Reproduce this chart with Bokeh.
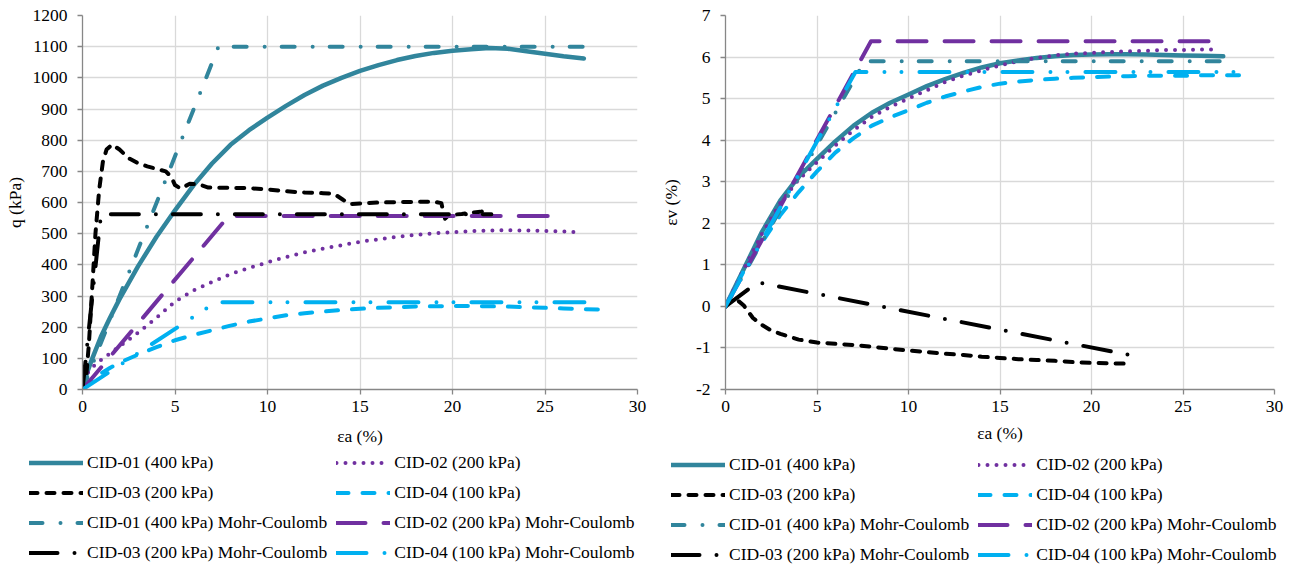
from bokeh.plotting import figure
from bokeh.models import Legend, LegendItem, Range1d, FixedTicker, PrintfTickFormatter
from bokeh.layouts import row, column
from bokeh.embed import file_html
from bokeh.resources import INLINE

# ---------------- tick values & labels ----------------
x_ticks = [0, 5, 10, 15, 20, 25, 30]
q_ticks = [0, 100, 200, 300, 400, 500, 600, 700, 800, 900, 1000, 1100, 1200]
ev_ticks = [-2, -1, 0, 1, 2, 3, 4, 5, 6, 7]

labels = ["CID-01 (400 kPa)", "CID-02 (200 kPa)", "CID-03 (200 kPa)", "CID-04 (100 kPa)",
          "CID-01 (400 kPa) Mohr-Coulomb", "CID-02 (200 kPa) Mohr-Coulomb",
          "CID-03 (200 kPa) Mohr-Coulomb", "CID-04 (100 kPa) Mohr-Coulomb"]

# ---------------- left chart: q (kPa) vs axial strain ----------------
q01_ea = [0, 0.25, 0.5, 1, 1.5, 2, 3, 4, 5, 6, 7, 8, 9, 10, 11, 12, 13, 14, 15, 16, 17, 18, 19, 20, 21, 22, 23, 24, 25, 26, 27.1]
q01 = [0, 55, 95, 170, 232, 290, 395, 490, 575, 655, 725, 785, 832, 872, 910, 945, 975, 1000, 1022, 1041, 1057, 1070, 1080, 1087, 1092, 1096, 1093, 1085, 1077, 1069, 1062]

q02_ea = [0, 0.3, 0.6, 1, 2, 3, 4, 5, 6, 7, 8, 9, 10, 11, 12, 13, 14, 15, 16, 17, 18, 19, 20, 21, 22, 23, 24, 25, 26, 26.8]
q02 = [0, 55, 75, 95, 138, 182, 230, 282, 318, 345, 370, 390, 408, 425, 440, 452, 463, 474, 482, 490, 496, 501, 505, 508, 510, 511, 510, 509, 507, 505]

q03_ea = [0, 0.2, 0.35, 0.5, 0.7, 0.9, 1.1, 1.3, 1.6, 2.0, 2.5, 3.0, 3.5, 4.0, 4.5, 4.8, 5.0, 5.3, 5.8, 6.3, 6.8, 8, 9, 10, 11, 12, 13, 13.6, 14.1, 14.5, 15, 16, 17, 18, 19, 19.4, 19.5, 19.6, 19.8, 20.5, 21, 21.5, 22]
q03 = [0, 40, 150, 300, 500, 640, 730, 770, 786, 770, 742, 726, 716, 708, 700, 682, 656, 645, 660, 658, 648, 647, 646, 642, 636, 632, 630, 628, 608, 595, 597, 600, 601, 602, 603, 598, 570, 548, 560, 563, 567, 570, 575]

q04_ea = [0, 0.5, 1, 1.5, 2, 3, 4, 5, 6, 7, 8, 9, 10, 11, 12, 13, 14, 15, 16, 17, 18, 19, 20, 21, 22, 23, 24, 25, 26, 27, 28.5]
q04 = [0, 30, 52, 70, 86, 112, 136, 158, 175, 190, 205, 218, 228, 238, 245, 250, 255, 259, 262, 264, 266, 267, 268, 268, 267, 266, 264, 262, 260, 258, 256]

q01mc_ea = [0, 7.35, 27.1]
q01mc = [0, 1100, 1100]
q02mc_ea = [0, 7.9, 26.0]
q02mc = [0, 557, 557]
q03mc_ea = [0, 1.0, 22.1]
q03mc = [0, 562, 562]
q04mc_ea = [0, 7.2, 27.4]
q04mc = [0, 280, 280]

# ---------------- right chart: volumetric strain vs axial strain ----------------
e01_ea = [0, 1, 2, 3, 4, 5, 6, 7, 8, 9, 10, 11, 12, 13, 14, 15, 16, 17, 18, 19, 20, 21, 22, 23, 24, 25, 26, 27.2]
e01 = [0, 0.9, 1.8, 2.55, 3.12, 3.55, 3.97, 4.35, 4.66, 4.9, 5.1, 5.3, 5.47, 5.62, 5.75, 5.85, 5.92, 5.98, 6.02, 6.05, 6.06, 6.07, 6.07, 6.06, 6.05, 6.04, 6.03, 6.02]

e02_ea = [0, 1, 2, 3, 4, 5, 6, 7, 8, 9, 10, 11, 12, 13, 14, 15, 16, 17, 18, 19, 20, 21, 22, 23, 24, 25, 26, 26.8]
e02 = [0, 0.9, 1.75, 2.5, 3.05, 3.47, 3.87, 4.24, 4.56, 4.8, 5.0, 5.2, 5.4, 5.55, 5.68, 5.8, 5.9, 5.98, 6.04, 6.08, 6.1, 6.12, 6.14, 6.15, 6.17, 6.17, 6.18, 6.18]

e03_ea = [0, 0.3, 0.6, 1.0, 1.5, 2, 2.5, 3, 4, 5, 6, 7, 8, 9, 10, 11, 12, 13, 14, 15, 16, 17, 18, 19, 20, 21, 22.1]
e03 = [0, 0.15, 0.17, 0.02, -0.28, -0.45, -0.58, -0.66, -0.8, -0.87, -0.9, -0.93, -0.97, -1.02, -1.06, -1.1, -1.14, -1.17, -1.21, -1.24, -1.27, -1.29, -1.31, -1.34, -1.36, -1.37, -1.38]

e04_ea = [0, 1, 2, 3, 4, 5, 6, 7, 8, 9, 10, 11, 12, 13, 14, 15, 16, 17, 18, 19, 20, 21, 22, 23, 24, 25, 26, 27, 28.5]
e04 = [0, 0.85, 1.55, 2.2, 2.75, 3.25, 3.7, 4.05, 4.35, 4.55, 4.72, 4.9, 5.05, 5.17, 5.28, 5.36, 5.41, 5.45, 5.48, 5.5, 5.52, 5.53, 5.54, 5.55, 5.55, 5.55, 5.56, 5.56, 5.56]

e01mc_ea = [0, 7.6, 27.1]
e01mc = [0, 5.9, 5.9]
e02mc_ea = [0, 7.95, 26.9]
e02mc = [0, 6.38, 6.38]
e03mc_ea = [0, 1.75, 22.1]
e03mc = [0, 0.58, -1.17]
e04mc_ea = [0, 7.1, 28.6]
e04mc = [0, 5.64, 5.64]

TEAL = "#31859C"
PURPLE = "#7030A0"
BLACK = "#000000"
LBLUE = "#00B0F0"
GRID = "#D9D9D9"
AXIS = "#878787"
FONT = "Liberation Serif"

styles = [
    dict(line_color=TEAL, line_width=4.5, line_dash="solid"),
    dict(line_color=PURPLE, line_width=4, line_dash="0 9"),
    dict(line_color=BLACK, line_width=4, line_dash="8 9"),
    dict(line_color=LBLUE, line_width=4, line_dash="12 14"),
    dict(line_color=TEAL, line_width=4, line_dash="13 18 0 17"),
    dict(line_color=PURPLE, line_width=4, line_dash="29 18"),
    dict(line_color=BLACK, line_width=4, line_dash="28 17 0 17"),
    dict(line_color=LBLUE, line_width=4, line_dash="30 18 0 17 0 18"),
]

left_series = [(q01_ea, q01), (q02_ea, q02), (q03_ea, q03), (q04_ea, q04),
               (q01mc_ea, q01mc), (q02mc_ea, q02mc), (q03mc_ea, q03mc), (q04mc_ea, q04mc)]
right_series = [(e01_ea, e01), (e02_ea, e02), (e03_ea, e03), (e04_ea, e04),
                (e01mc_ea, e01mc), (e02mc_ea, e02mc), (e03mc_ea, e03mc), (e04mc_ea, e04mc)]


def make_fig(width, height, bl, br, bt, bb, yr, yticks, ylabel, ylab_standoff, xlab_standoff):
    p = figure(width=width, height=height, x_range=Range1d(0, 30), y_range=Range1d(*yr),
               output_backend="svg", toolbar_location=None,
               min_border_left=bl, min_border_right=br, min_border_top=bt, min_border_bottom=bb)
    p.outline_line_color = None
    p.xaxis.ticker = FixedTicker(ticks=x_ticks)
    p.yaxis.ticker = FixedTicker(ticks=yticks)
    p.yaxis.formatter = PrintfTickFormatter(format="%d")
    p.xaxis.formatter = PrintfTickFormatter(format="%d")
    for g in (p.xgrid, p.ygrid):
        g.grid_line_color = GRID
        g.grid_line_width = 1.3
    for ax in (p.xaxis, p.yaxis):
        ax.axis_line_color = AXIS
        ax.axis_line_width = 1.3
        ax.major_tick_line_color = AXIS
        ax.major_tick_line_width = 1.3
        ax.major_tick_out = 5
        ax.major_tick_in = 0
        ax.minor_tick_line_color = None
        ax.major_label_text_font = FONT
        ax.major_label_text_font_size = "17.5px"
        ax.major_label_text_color = "#000000"
        ax.axis_label_text_font = FONT
        ax.axis_label_text_font_size = "17.5px"
        ax.axis_label_text_font_style = "normal"
        ax.axis_label_text_color = "#000000"
    p.xaxis.major_label_standoff = 6
    p.xaxis.axis_label = "εa (%)"
    p.xaxis.axis_label_standoff = xlab_standoff
    p.yaxis.major_label_standoff = 10
    p.yaxis.axis_label = ylabel
    p.yaxis.axis_label_standoff = ylab_standoff
    return p


def add_series(p, series):
    for (xs, ys), st in zip(series, styles):
        p.line(xs, ys, line_cap="round", line_join="round", **st)


def legend_fig(width, height, loc, series):
    # legend-only figure: the series are drawn but the view range lies outside the data
    lf = figure(width=width, height=height, x_range=Range1d(-3, -2), y_range=Range1d(-3, -2),
                output_backend="svg", toolbar_location=None,
                x_axis_type=None, y_axis_type=None, min_border=0)
    lf.outline_line_color = None
    lf.xgrid.visible = False
    lf.ygrid.visible = False
    items = []
    for lab, st, (xs, ys) in zip(labels, styles, series):
        r = lf.line(xs, ys, line_cap="round", line_join="round", **st)
        items.append(LegendItem(label=lab, renderers=[r]))
    leg = Legend(items=items, location=loc, orientation="horizontal", ncols=2,
                 glyph_width=54, glyph_height=19, label_height=19, label_standoff=4,
                 spacing=9, padding=0, margin=0, border_line_color=None,
                 background_fill_alpha=0, label_text_font=FONT,
                 label_text_font_size="17.5px", label_text_color="#000000")
    lf.add_layout(leg)
    return lf


TOP_H = 452
LEG_H = 567 - TOP_H

p1 = make_fig(648, TOP_H, 82, 11, 15, 63, (0, 1200), q_ticks, "q (kPa)", 5, 11)
add_series(p1, left_series)

p2 = make_fig(647, TOP_H, 77, 21, 14, 61, (-2, 7), ev_ticks, "εv (%)", 12, 8)
add_series(p2, right_series)

l1 = legend_fig(648, LEG_H, (29, 4), left_series)
l2 = legend_fig(647, LEG_H, (23, 2), right_series)

layout = column(row(p1, p2), row(l1, l2))
open("out.html", "w").write(file_html(layout, INLINE))
